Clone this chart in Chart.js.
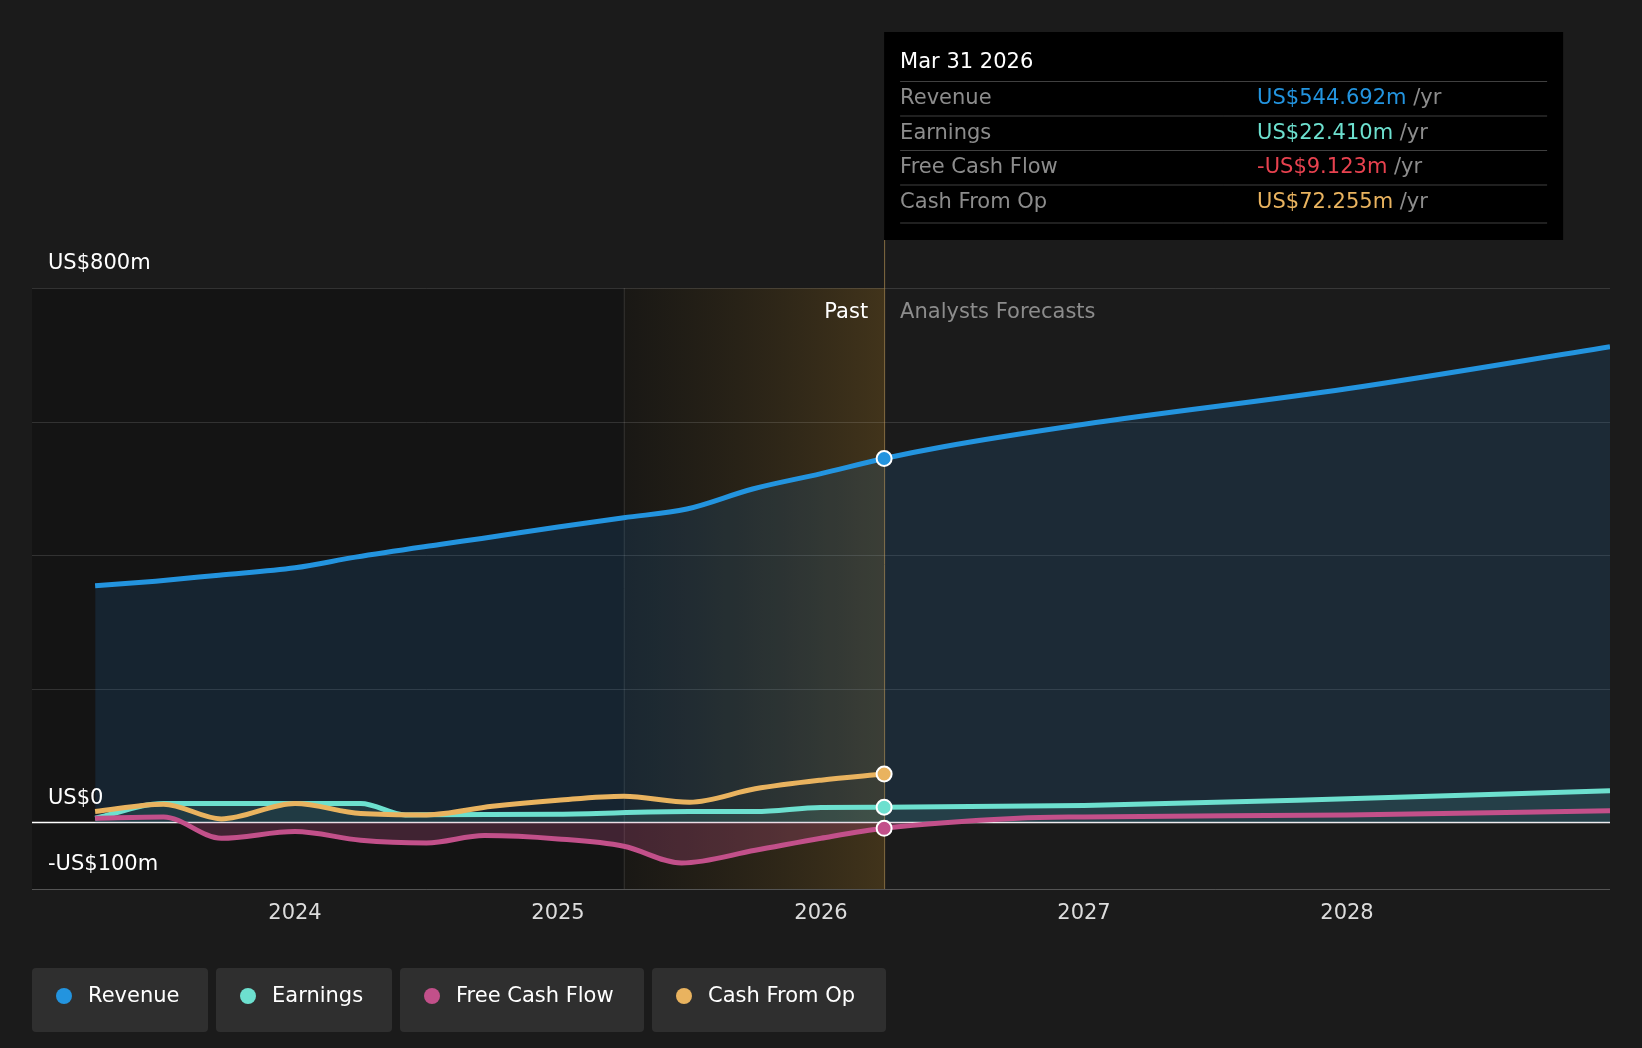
<!DOCTYPE html>
<html><head><meta charset="utf-8">
<script src="https://cdn.jsdelivr.net/npm/chart.js@4/dist/chart.umd.min.js"></script>
<style>html,body{margin:0;background:#1b1b1b;}canvas{display:block}</style>
</head><body>
<canvas id="c" width="1642" height="1048"></canvas>
<script>
// values in US$ m, x in decimal years
const revenueX = [2023.24, 2023.47, 2023.71, 2024.0, 2024.23, 2024.55, 2024.71, 2025.0, 2025.25, 2025.49, 2025.74, 2026.0, 2026.24, 2026.46, 2027.0, 2028.0, 2029.0];
const revenueY = [354, 361, 370, 381, 397, 416, 425, 442, 456, 469, 499, 522, 544.692, 562, 596, 649, 712];
const earningsX = [2023.24, 2023.5, 2024.25, 2024.42, 2025.0, 2025.5, 2025.75, 2026.0, 2026.24, 2027.0, 2028.0, 2029.0];
const earningsY = [6, 28, 28, 11, 12, 16, 16, 22, 22.41, 25, 35, 47];
const fcfX = [2023.24, 2023.5, 2023.72, 2024.0, 2024.25, 2024.5, 2024.72, 2025.0, 2025.25, 2025.47, 2025.75, 2026.0, 2026.24, 2026.75, 2027.0, 2028.0, 2029.0];
const fcfY = [6, 8, -24, -14, -27, -31, -20, -25, -36, -61, -42, -24, -9.123, 6, 8, 11, 17];
const cfoX = [2023.24, 2023.5, 2023.72, 2024.0, 2024.25, 2024.5, 2024.75, 2025.0, 2025.25, 2025.5, 2025.75, 2026.0, 2026.24];
const cfoY = [16, 27, 5, 28, 13, 11, 24, 33, 39, 30, 50, 63, 72.255];
const yearTicks = [2024, 2025, 2026, 2027, 2028];
const gridValues = [0, 200, 400, 600, 800];
const nowX = 2026.24, bandStart = 2025.25;

const pts = (xs, ys) => xs.map((x, i) => ({x, y: ys[i]}));
const FONT = '"DejaVu Sans", sans-serif';

const deco = {
  id: 'deco',
  beforeDraw(chart) {
    const {ctx, chartArea: a, scales: {x, y}} = chart;
    ctx.save();
    ctx.fillStyle = '#1b1b1b';
    ctx.fillRect(0, 0, chart.width, chart.height);
    const nx = x.getPixelForValue(nowX), bx = x.getPixelForValue(bandStart);
    ctx.fillStyle = '#141414';
    ctx.fillRect(a.left, a.top, nx - a.left, a.bottom - a.top);
    const g = ctx.createLinearGradient(bx, 0, nx, 0);
    g.addColorStop(0, 'rgba(90,70,30,0.08)');
    g.addColorStop(1, 'rgba(120,90,35,0.45)');
    ctx.fillStyle = g;
    ctx.fillRect(bx, a.top, nx - bx, a.bottom - a.top);
    ctx.strokeStyle = 'rgba(255,255,255,0.12)';
    ctx.lineWidth = 1;
    ctx.beginPath(); ctx.moveTo(bx + .5, a.top); ctx.lineTo(bx + .5, a.bottom); ctx.stroke();
    gridValues.forEach(v => {
      const py = Math.round(y.getPixelForValue(v)) + .5;
      ctx.strokeStyle = v === 0 ? '#ffffff' : 'rgba(255,255,255,0.13)';
      ctx.lineWidth = v === 0 ? 1.5 : 1;
      ctx.beginPath(); ctx.moveTo(a.left, py); ctx.lineTo(a.right, py); ctx.stroke();
    });
    ctx.strokeStyle = 'rgba(255,255,255,0.25)';
    ctx.beginPath(); ctx.moveTo(a.left, a.bottom + .5); ctx.lineTo(a.right, a.bottom + .5); ctx.stroke();
    ctx.restore();
  },
  afterDraw(chart) {
    const {ctx, chartArea: a, scales: {x, y}} = chart;
    const nx = x.getPixelForValue(nowX);
    ctx.save();
    ctx.font = '21px ' + FONT;
    ctx.textBaseline = 'middle';
    ctx.fillStyle = '#ffffff';
    ctx.fillText('US$800m', 48, y.getPixelForValue(800) - 24);
    ctx.fillText('US$0', 48, y.getPixelForValue(0) - 24);
    ctx.fillText('-US$100m', 48, y.getPixelForValue(-100) - 24);
    ctx.textAlign = 'center';
    ctx.fillStyle = '#dddddd';
    yearTicks.forEach(t => ctx.fillText(String(t), x.getPixelForValue(t), 914));
    ctx.textAlign = 'right'; ctx.fillStyle = '#ffffff';
    ctx.fillText('Past', nx - 16, 313);
    ctx.textAlign = 'left'; ctx.fillStyle = '#8c8c8c';
    ctx.fillText('Analysts Forecasts', nx + 16, 313);
    // vertical now line
    ctx.strokeStyle = 'rgba(200,160,90,0.6)'; ctx.lineWidth = 1;
    ctx.beginPath(); ctx.moveTo(nx + .5, 240); ctx.lineTo(nx + .5, a.bottom); ctx.stroke();
    // tooltip box
    const bx = nx, bw = 679, by = 32, bh = 208;
    ctx.fillStyle = '#000000'; ctx.fillRect(bx, by, bw, bh);
    ctx.fillStyle = '#ffffff';
    ctx.fillText('Mar 31 2026', bx + 16, 63);
    const rows = [
      ['Revenue', 'US$544.692m', '#2394df'],
      ['Earnings', 'US$22.410m', '#6de0cf'],
      ['Free Cash Flow', '-US$9.123m', '#e8424f'],
      ['Cash From Op', 'US$72.255m', '#e9b35f']
    ];
    rows.forEach((r, i) => {
      const ry = 99 + i * 34.5;
      ctx.strokeStyle = 'rgba(255,255,255,0.25)';
      ctx.beginPath(); ctx.moveTo(bx + 16, ry - 17.5); ctx.lineTo(bx + bw - 16, ry - 17.5); ctx.stroke();
      ctx.fillStyle = '#8c8c8c'; ctx.fillText(r[0], bx + 16, ry);
      ctx.fillStyle = r[2]; ctx.fillText(r[1], bx + 373, ry);
      const w = ctx.measureText(r[1]).width;
      ctx.fillStyle = '#8c8c8c'; ctx.fillText(' /yr', bx + 373 + w, ry);
    });
    ctx.strokeStyle = 'rgba(255,255,255,0.25)';
    ctx.beginPath(); ctx.moveTo(bx + 16, 223); ctx.lineTo(bx + bw - 16, 223); ctx.stroke();
    // end dots
    [[544.692, '#2394df'], [22.41, '#6de0cf'], [-9.123, '#c2508a'], [72.255, '#e9b35f']].forEach(([v, col]) => {
      ctx.beginPath(); ctx.arc(nx, y.getPixelForValue(v), 7.5, 0, Math.PI * 2);
      ctx.fillStyle = col; ctx.fill(); ctx.strokeStyle = '#ffffff'; ctx.lineWidth = 2; ctx.stroke();
    });
    // legend
    const leg = [['Revenue', '#2394df', 32, 176], ['Earnings', '#6de0cf', 216, 176], ['Free Cash Flow', '#c2508a', 400, 244], ['Cash From Op', '#e9b35f', 652, 234]];
    leg.forEach(([t, col, lx, lw]) => {
      ctx.fillStyle = '#2f2f2f';
      ctx.beginPath(); ctx.roundRect(lx, 968, lw, 64, 4); ctx.fill();
      ctx.fillStyle = col; ctx.beginPath(); ctx.arc(lx + 32, 996, 8, 0, Math.PI * 2); ctx.fill();
      ctx.fillStyle = '#ffffff'; ctx.fillText(t, lx + 56, 997);
    });
    ctx.restore();
  }
};

const line = (label, data, color, extra) => Object.assign({
  label, data, borderColor: color, borderWidth: 5, pointRadius: 0,
  tension: 0.4, cubicInterpolationMode: 'monotone', fill: false
}, extra || {});

new Chart(document.getElementById('c').getContext('2d'), {
  type: 'line',
  data: {
    datasets: [
      line('Cash From Op', pts(cfoX, cfoY), '#e9b35f'),
      line('Free Cash Flow', pts(fcfX, fcfY), '#c2508a', {fill: {target: 'origin', above: 'rgba(0,0,0,0)', below: 'rgba(194,80,138,0.25)'}}),
      line('Earnings', pts(earningsX, earningsY), '#6de0cf', {fill: {target: 'origin', above: 'rgba(109,224,207,0.12)'}}),
      line('Revenue', pts(revenueX, revenueY), '#2394df', {fill: {target: 'origin', above: 'rgba(35,110,180,0.18)'}})
    ]
  },
  options: {
    responsive: false, animation: false,
    layout: {padding: {left: 32, right: 32, top: 288, bottom: 159}},
    plugins: {legend: {display: false}, tooltip: {enabled: false}},
    scales: {
      x: {type: 'linear', min: 2023.0, max: 2029.0, display: false},
      y: {min: -100, max: 800, display: false}
    }
  },
  plugins: [deco]
});
</script>
</body></html>
